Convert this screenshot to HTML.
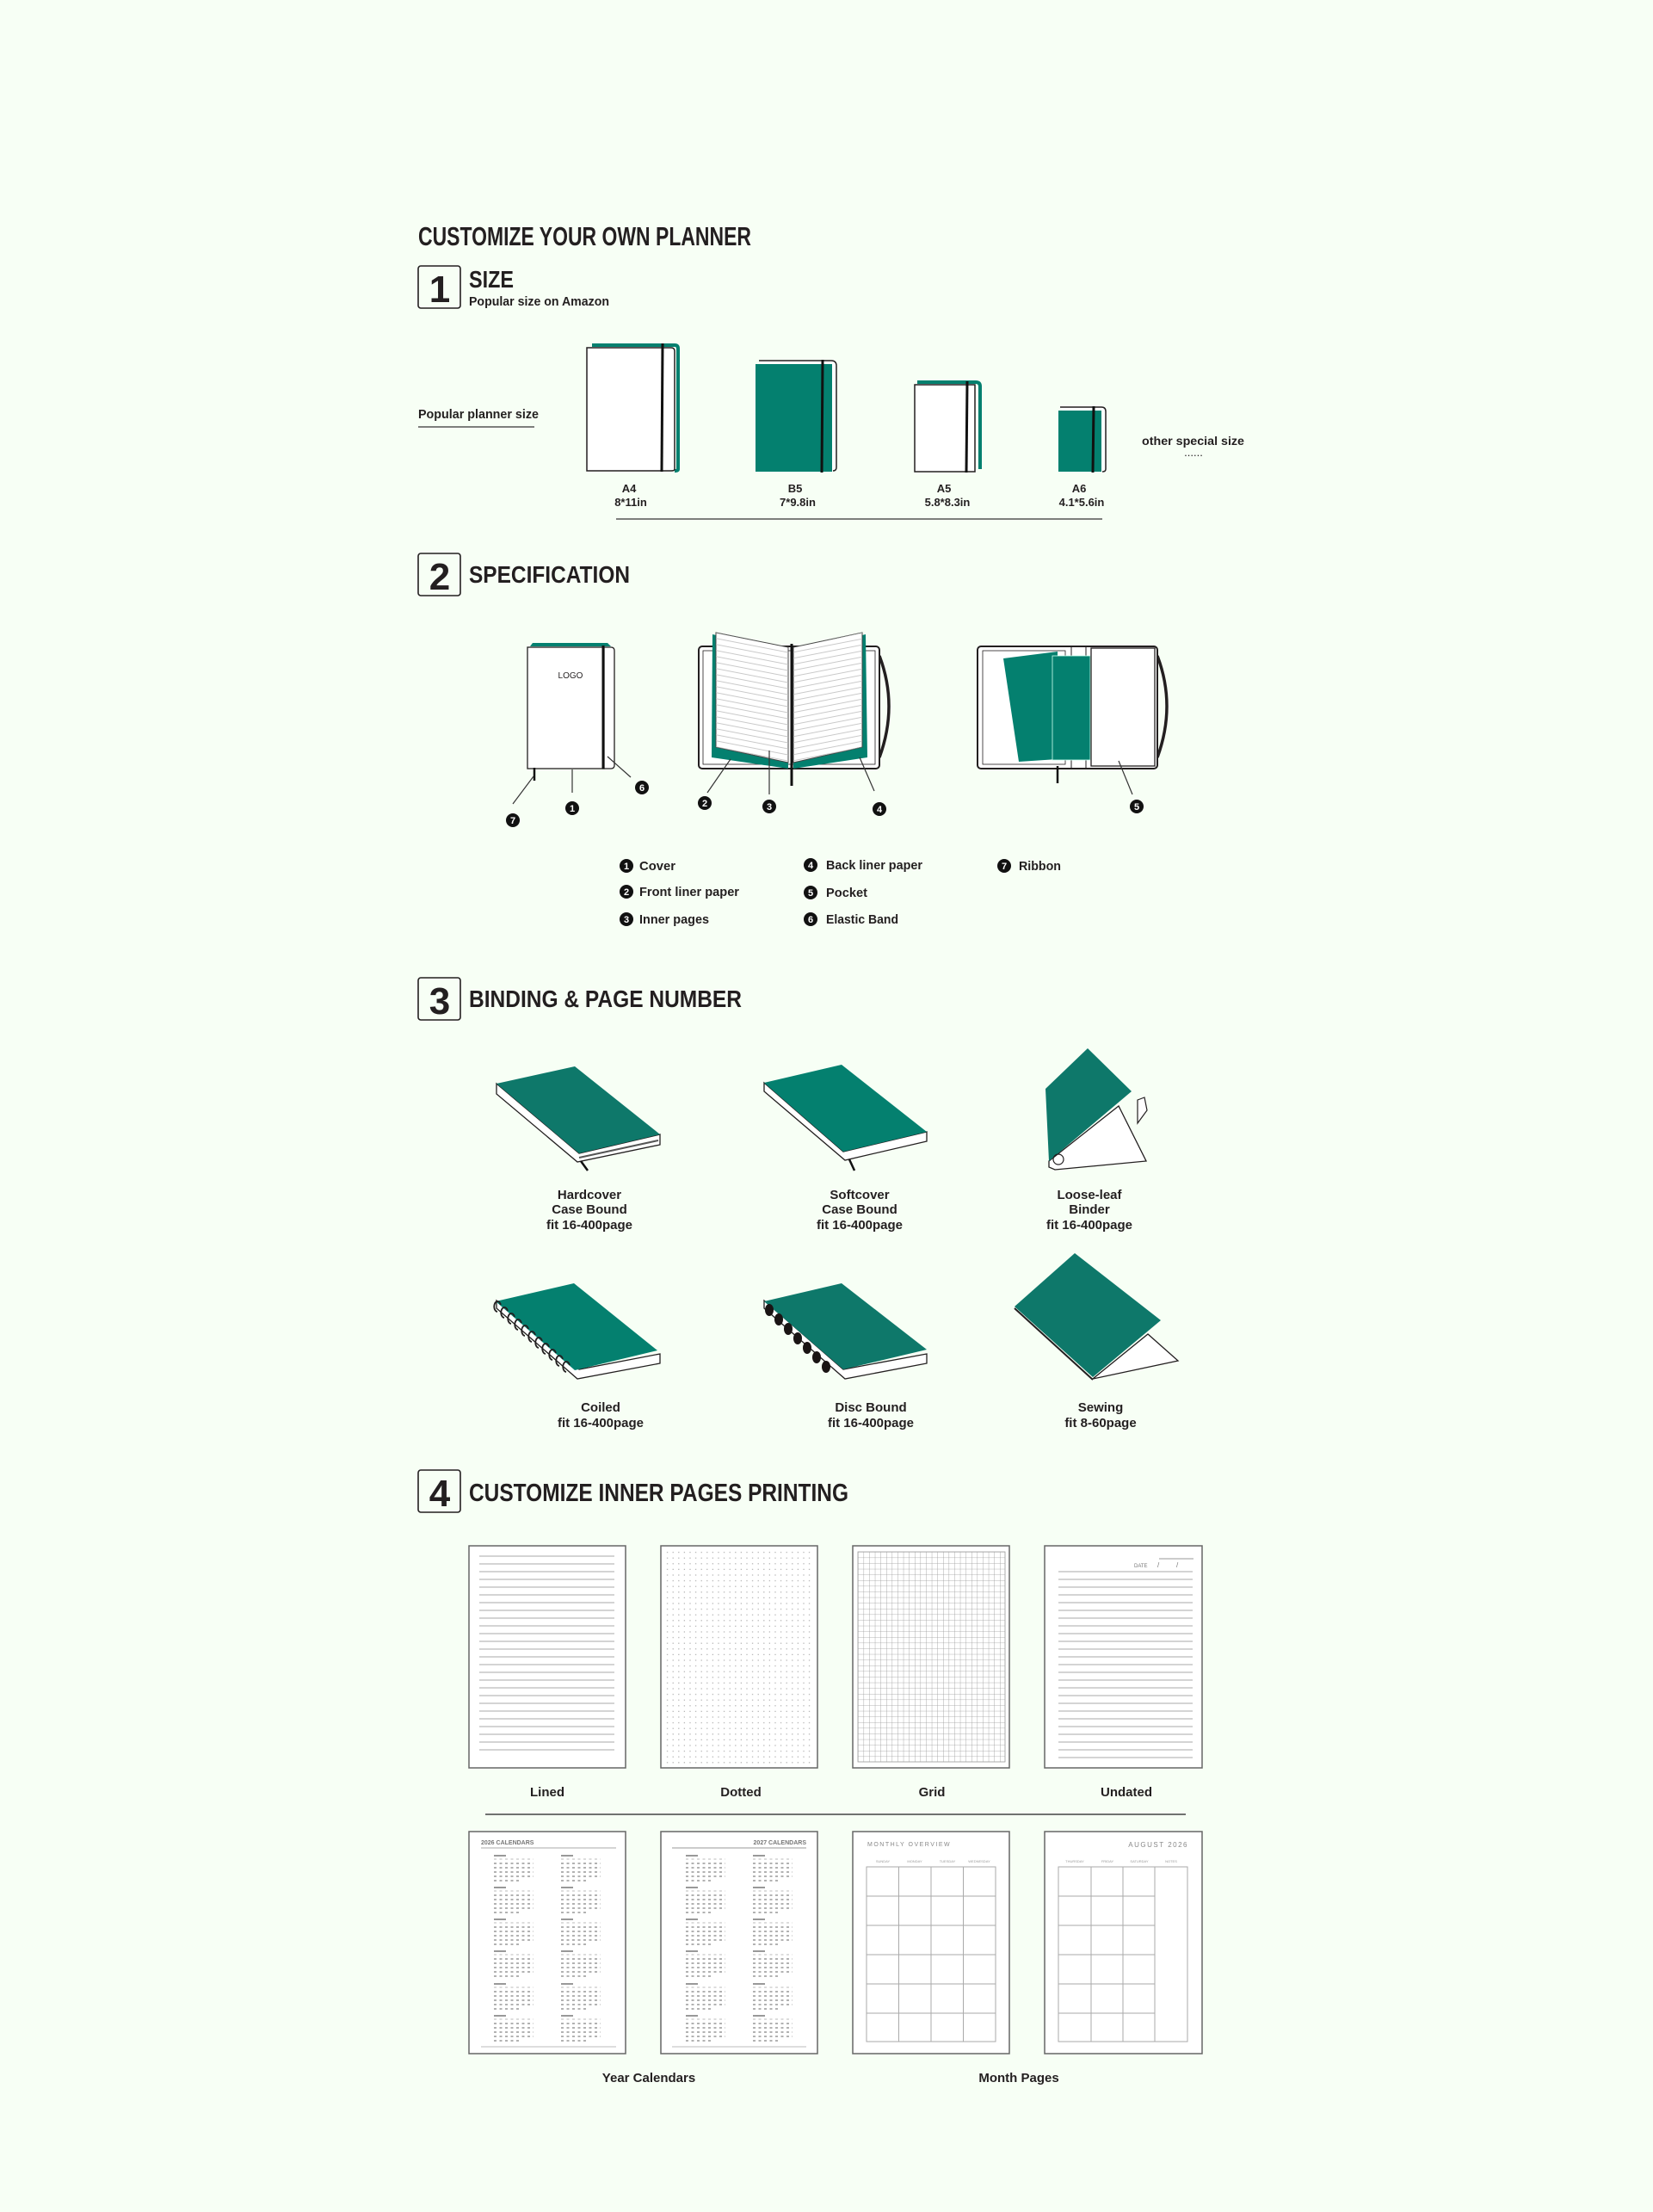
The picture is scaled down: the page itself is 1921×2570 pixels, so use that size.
<!DOCTYPE html>
<html><head><meta charset="utf-8"><style>
html,body{margin:0;padding:0;background:#f7fff5;}
svg{display:block;}
text{font-family:"Liberation Sans",sans-serif;fill:#231f20;}
</style></head><body>
<svg width="1921" height="2570" viewBox="0 0 1921 2570" xmlns="http://www.w3.org/2000/svg">
<defs>
<pattern id="pl" width="10" height="9" patternUnits="userSpaceOnUse"><line x1="0" y1="8" x2="10" y2="8" stroke="#aaa" stroke-width="1"/></pattern>
<pattern id="plL" width="10" height="7" patternUnits="userSpaceOnUse" patternTransform="skewY(11)"><line x1="0" y1="6" x2="10" y2="6" stroke="#bbb" stroke-width="0.8"/></pattern>
<pattern id="plR" width="10" height="7" patternUnits="userSpaceOnUse" patternTransform="skewY(-11)"><line x1="0" y1="6" x2="10" y2="6" stroke="#bbb" stroke-width="0.8"/></pattern>
<pattern id="dots" x="772" y="1800" width="6.6" height="6.6" patternUnits="userSpaceOnUse"><rect x="3" y="3" width="1.2" height="1.2" fill="#aaa"/></pattern>
<pattern id="grid" x="997" y="1803" width="6.6" height="6.6" patternUnits="userSpaceOnUse"><path d="M0 0H6.6M0 0V6.6" stroke="#999" stroke-width="0.8" fill="none"/></pattern>
<g id="mb">
<rect x="0" y="0" width="14" height="2" fill="#999"/>
<line x1="0" y1="5" x2="46" y2="5" stroke="#bbb" stroke-width="1" stroke-dasharray="3,3.5"/>
<line x1="0" y1="10" x2="46" y2="10" stroke="#999" stroke-width="1.6" stroke-dasharray="3,3.5"/>
<line x1="0" y1="15" x2="46" y2="15" stroke="#999" stroke-width="1.6" stroke-dasharray="3,3.5"/>
<line x1="0" y1="20" x2="46" y2="20" stroke="#999" stroke-width="1.6" stroke-dasharray="3,3.5"/>
<line x1="0" y1="25" x2="46" y2="25" stroke="#999" stroke-width="1.6" stroke-dasharray="3,3.5"/>
<line x1="0" y1="30" x2="30" y2="30" stroke="#999" stroke-width="1.6" stroke-dasharray="3,3.5"/>
</g>
<g id="yc">
<use href="#mb" x="0" y="0"/><use href="#mb" x="78" y="0"/>
<use href="#mb" x="0" y="37"/><use href="#mb" x="78" y="37"/>
<use href="#mb" x="0" y="74"/><use href="#mb" x="78" y="74"/>
<use href="#mb" x="0" y="111"/><use href="#mb" x="78" y="111"/>
<use href="#mb" x="0" y="149"/><use href="#mb" x="78" y="149"/>
<use href="#mb" x="0" y="186"/><use href="#mb" x="78" y="186"/>
</g>
</defs>
<rect width="1921" height="2570" fill="#f7fff5"/>

<text x="486" y="285" font-size="31" font-weight="bold" textLength="387" lengthAdjust="spacingAndGlyphs">CUSTOMIZE YOUR OWN PLANNER</text>

<!-- Section 1 -->
<rect x="486" y="309" width="49" height="49" rx="3" fill="none" stroke="#231f20" stroke-width="1.6"/>
<text x="511" y="351" font-size="44" font-weight="bold" text-anchor="middle">1</text>
<text x="545" y="334" font-size="28" font-weight="bold" textLength="52" lengthAdjust="spacingAndGlyphs">SIZE</text>
<text x="545" y="355" font-size="15" font-weight="bold" textLength="163" lengthAdjust="spacingAndGlyphs">Popular size on Amazon</text>
<text x="486" y="486" font-size="15" font-weight="bold" textLength="140" lengthAdjust="spacingAndGlyphs">Popular planner size</text>
<line x1="486" y1="496" x2="621" y2="496" stroke="#555" stroke-width="1.5"/>

<path d="M688 401 H784 Q788 401 788 405 V545 Q788 547 784 547" fill="none" stroke="#04806f" stroke-width="4"/>
<path d="M682 404 H780 Q784 404 784 408 V545 Q784 547 780 547 H682 Z" fill="#fff" stroke="#231f20" stroke-width="1.5"/>
<line x1="770" y1="399" x2="769" y2="548" stroke="#111" stroke-width="3"/>
<path d="M882 419 H966 Q972 419 972 425 V543 Q972 547 968 547" fill="#fff" stroke="#231f20" stroke-width="1.5"/>
<rect x="878" y="423" width="89" height="125" fill="#04806f"/>
<line x1="956" y1="418" x2="955" y2="549" stroke="#111" stroke-width="3"/>
<path d="M1066 444 H1134 Q1139 444 1139 449 V545" fill="none" stroke="#04806f" stroke-width="4"/>
<rect x="1063" y="447" width="70" height="101" fill="#fff" stroke="#231f20" stroke-width="1.5"/>
<line x1="1124" y1="443" x2="1123" y2="549" stroke="#111" stroke-width="3"/>
<path d="M1232 473 H1280 Q1285 473 1285 478 V545 Q1285 548 1281 548" fill="#fff" stroke="#231f20" stroke-width="1.5"/>
<rect x="1230" y="477" width="50" height="71" fill="#04806f"/>
<line x1="1271" y1="472" x2="1270" y2="549" stroke="#111" stroke-width="3"/>

<g font-size="13" text-anchor="middle" font-weight="bold">
<text x="731" y="572">A4</text><text x="733" y="588">8*11in</text>
<text x="924" y="572">B5</text><text x="927" y="588">7*9.8in</text>
<text x="1097" y="572">A5</text><text x="1101" y="588">5.8*8.3in</text>
<text x="1254" y="572">A6</text><text x="1257" y="588">4.1*5.6in</text>
</g>
<line x1="716" y1="603" x2="1281" y2="603" stroke="#555" stroke-width="1.5"/>
<text x="1327" y="517" font-size="14" font-weight="bold" textLength="119" lengthAdjust="spacingAndGlyphs">other special size</text>
<text x="1387" y="530" font-size="13" text-anchor="middle">......</text>

<!-- Section 2 -->
<rect x="486" y="643" width="49" height="49" rx="3" fill="none" stroke="#231f20" stroke-width="1.6"/>
<text x="511" y="685" font-size="44" font-weight="bold" text-anchor="middle">2</text>
<text x="545" y="677" font-size="28" font-weight="bold" textLength="187" lengthAdjust="spacingAndGlyphs">SPECIFICATION</text>

<path d="M616 751 L619 747 H706 L710 751" fill="#04806f"/>
<path d="M700 752 H710 Q714 752 714 756 V889 Q714 893 710 893 H700" fill="#fff" stroke="#231f20" stroke-width="1.3"/>
<rect x="613" y="752" width="89" height="141" fill="#fff" stroke="#231f20" stroke-width="1.3"/>
<line x1="701" y1="750" x2="701" y2="893" stroke="#111" stroke-width="3"/>
<text x="663" y="788" font-size="10" text-anchor="middle">LOGO</text>
<line x1="621" y1="892" x2="621" y2="907" stroke="#111" stroke-width="2.5"/>
<g stroke="#333" stroke-width="1.2">
<line x1="620" y1="902" x2="596" y2="934"/>
<line x1="665" y1="894" x2="665" y2="921"/>
<line x1="706" y1="879" x2="733" y2="903"/>
</g>

<path d="M1022 762 Q1044 820 1022 880" fill="none" stroke="#231f20" stroke-width="3.5"/>
<rect x="812" y="751" width="210" height="142" rx="4" fill="#fff" stroke="#231f20" stroke-width="2"/>
<rect x="817" y="756" width="200" height="132" fill="none" stroke="#231f20" stroke-width="0.8"/>
<polygon points="828,737 916,757 916,893 827,880" fill="#04806f"/>
<polygon points="1006,737 922,757 922,893 1008,880" fill="#04806f"/>
<polygon points="832,735 916,752 916,886 832,868" fill="#fff" stroke="#444" stroke-width="1"/>
<polygon points="832,735 916,752 916,886 832,868" fill="url(#plL)"/>
<polygon points="1002,735 922,752 922,886 1002,868" fill="#fff" stroke="#444" stroke-width="1"/>
<polygon points="1002,735 922,752 922,886 1002,868" fill="url(#plR)"/>
<line x1="920" y1="748" x2="920" y2="913" stroke="#111" stroke-width="3"/>
<g stroke="#333" stroke-width="1.2">
<line x1="849" y1="882" x2="822" y2="921"/>
<line x1="894" y1="872" x2="894" y2="923"/>
<line x1="999" y1="880" x2="1016" y2="919"/>
</g>

<path d="M1345 762 Q1367 820 1345 880" fill="none" stroke="#231f20" stroke-width="3.5"/>
<rect x="1136" y="751" width="209" height="142" rx="4" fill="#fff" stroke="#231f20" stroke-width="2"/>
<rect x="1142" y="756" width="96" height="132" fill="none" stroke="#231f20" stroke-width="0.8"/>
<line x1="1245" y1="751" x2="1245" y2="893" stroke="#231f20" stroke-width="1"/>
<line x1="1262" y1="751" x2="1262" y2="893" stroke="#231f20" stroke-width="1"/>
<polygon points="1166,765 1229,757 1229,882 1184,885" fill="#04806f"/>
<rect x="1223" y="762" width="44" height="121" fill="#04806f" stroke="#cfe" stroke-width="0.8"/>
<rect x="1268" y="753" width="74" height="137" fill="#fff" stroke="#231f20" stroke-width="1.3"/>
<line x1="1229" y1="890" x2="1229" y2="910" stroke="#111" stroke-width="2.5"/>
<line x1="1300" y1="884" x2="1316" y2="923" stroke="#333" stroke-width="1.2"/>

<g font-size="11" font-weight="bold" text-anchor="middle">
<circle cx="596" cy="953" r="8" fill="#111"/><text x="596" y="957" style="fill:#fff">7</text>
<circle cx="665" cy="939" r="8" fill="#111"/><text x="665" y="943" style="fill:#fff">1</text>
<circle cx="746" cy="915" r="8" fill="#111"/><text x="746" y="919" style="fill:#fff">6</text>
<circle cx="819" cy="933" r="8" fill="#111"/><text x="819" y="937" style="fill:#fff">2</text>
<circle cx="894" cy="937" r="8" fill="#111"/><text x="894" y="941" style="fill:#fff">3</text>
<circle cx="1022" cy="940" r="8" fill="#111"/><text x="1022" y="944" style="fill:#fff">4</text>
<circle cx="1321" cy="937" r="8" fill="#111"/><text x="1321" y="941" style="fill:#fff">5</text>
<circle cx="728" cy="1006" r="8" fill="#111"/><text x="728" y="1010" style="fill:#fff">1</text>
<circle cx="728" cy="1036" r="8" fill="#111"/><text x="728" y="1040" style="fill:#fff">2</text>
<circle cx="728" cy="1068" r="8" fill="#111"/><text x="728" y="1072" style="fill:#fff">3</text>
<circle cx="942" cy="1005" r="8" fill="#111"/><text x="942" y="1009" style="fill:#fff">4</text>
<circle cx="942" cy="1037" r="8" fill="#111"/><text x="942" y="1041" style="fill:#fff">5</text>
<circle cx="942" cy="1068" r="8" fill="#111"/><text x="942" y="1072" style="fill:#fff">6</text>
<circle cx="1167" cy="1006" r="8" fill="#111"/><text x="1167" y="1010" style="fill:#fff">7</text>
</g>
<g font-size="15" font-weight="bold">
<text x="743" y="1011" textLength="42" lengthAdjust="spacingAndGlyphs">Cover</text>
<text x="743" y="1041" textLength="116" lengthAdjust="spacingAndGlyphs">Front liner paper</text>
<text x="743" y="1073" textLength="81" lengthAdjust="spacingAndGlyphs">Inner pages</text>
<text x="960" y="1010" textLength="112" lengthAdjust="spacingAndGlyphs">Back liner paper</text>
<text x="960" y="1042" textLength="48" lengthAdjust="spacingAndGlyphs">Pocket</text>
<text x="960" y="1073" textLength="84" lengthAdjust="spacingAndGlyphs">Elastic Band</text>
<text x="1184" y="1011" textLength="49" lengthAdjust="spacingAndGlyphs">Ribbon</text>
</g>

<!-- Section 3 -->
<rect x="486" y="1136" width="49" height="49" rx="3" fill="none" stroke="#231f20" stroke-width="1.6"/>
<text x="511" y="1178" font-size="44" font-weight="bold" text-anchor="middle">3</text>
<text x="545" y="1170" font-size="28" font-weight="bold" textLength="317" lengthAdjust="spacingAndGlyphs">BINDING &amp; PAGE NUMBER</text>

<polygon points="577,1259 577,1271 671,1350 767,1330 767,1318 673,1340" fill="#fff" stroke="#231f20" stroke-width="1.3"/>
<line x1="673" y1="1345" x2="765" y2="1325" stroke="#555" stroke-width="2"/>
<polygon points="577,1259 668,1239 767,1318 673,1340" fill="#0e786a"/>
<line x1="675" y1="1349" x2="683" y2="1360" stroke="#111" stroke-width="2.5"/>
<polygon points="888,1258 888,1268 982,1348 1077,1326 1077,1315 980,1338" fill="#fff" stroke="#231f20" stroke-width="1.3"/>
<polygon points="888,1258 978,1237 1077,1315 980,1338" fill="#04806f"/>
<line x1="987" y1="1347" x2="993" y2="1360" stroke="#111" stroke-width="2.5"/>
<polygon points="1219,1349 1300,1285 1332,1349 1226,1359 1219,1356" fill="#fff" stroke="#231f20" stroke-width="1.3"/>
<path d="M1322 1278 L1330 1275 L1333 1290 L1322 1305 Z" fill="#fff" stroke="#231f20" stroke-width="1.2"/>
<polygon points="1215,1265 1264,1218 1315,1268 1219,1349" fill="#0e786a"/>
<circle cx="1230" cy="1347" r="6" fill="none" stroke="#231f20" stroke-width="1.2"/>
<polygon points="577,1511 577,1520 671,1602 767,1584 767,1573 673,1591" fill="#fff" stroke="#231f20" stroke-width="1.3"/>
<polygon points="576,1512 667,1491 764,1569 668,1592" fill="#04806f"/>
<g fill="none" stroke="#231f20" stroke-width="1.8">
<path d="M582 1516 a4 6 0 1 0 -4 8"/><path d="M590 1523 a4 6 0 1 0 -4 8"/><path d="M598 1530 a4 6 0 1 0 -4 8"/>
<path d="M606 1537 a4 6 0 1 0 -4 8"/><path d="M614 1544 a4 6 0 1 0 -4 8"/><path d="M622 1551 a4 6 0 1 0 -4 8"/>
<path d="M630 1558 a4 6 0 1 0 -4 8"/><path d="M638 1565 a4 6 0 1 0 -4 8"/><path d="M646 1572 a4 6 0 1 0 -4 8"/>
<path d="M654 1579 a4 6 0 1 0 -4 8"/><path d="M662 1586 a4 6 0 1 0 -4 8"/>
</g>
<polygon points="888,1511 888,1520 982,1602 1077,1584 1077,1573 980,1591" fill="#fff" stroke="#231f20" stroke-width="1.3"/>
<polygon points="888,1512 978,1491 1077,1568 980,1591" fill="#0e786a"/>
<g fill="#1a1414">
<ellipse cx="894" cy="1522" rx="5" ry="7"/><ellipse cx="905" cy="1533" rx="5" ry="7"/><ellipse cx="916" cy="1544" rx="5" ry="7"/>
<ellipse cx="927" cy="1555" rx="5" ry="7"/><ellipse cx="938" cy="1566" rx="5" ry="7"/><ellipse cx="949" cy="1577" rx="5" ry="7"/>
<ellipse cx="960" cy="1588" rx="5" ry="7"/>
</g>
<polygon points="1270,1602 1369,1581 1334,1550" fill="#fff" stroke="#231f20" stroke-width="1.3"/>
<line x1="1179" y1="1520" x2="1270" y2="1603" stroke="#231f20" stroke-width="2"/>
<polygon points="1179,1518 1249,1456 1349,1534 1270,1600" fill="#0e786a"/>

<g font-size="15" font-weight="bold" text-anchor="middle">
<text x="685" y="1393">Hardcover</text><text x="685" y="1410">Case Bound</text><text x="685" y="1428">fit 16-400page</text>
<text x="999" y="1393">Softcover</text><text x="999" y="1410">Case Bound</text><text x="999" y="1428">fit 16-400page</text>
<text x="1266" y="1393">Loose-leaf</text><text x="1266" y="1410">Binder</text><text x="1266" y="1428">fit 16-400page</text>
<text x="698" y="1640">Coiled</text><text x="698" y="1658">fit 16-400page</text>
<text x="1012" y="1640">Disc Bound</text><text x="1012" y="1658">fit 16-400page</text>
<text x="1279" y="1640">Sewing</text><text x="1279" y="1658">fit 8-60page</text>
</g>

<!-- Section 4 -->
<rect x="486" y="1708" width="49" height="49" rx="3" fill="none" stroke="#231f20" stroke-width="1.6"/>
<text x="511" y="1750" font-size="44" font-weight="bold" text-anchor="middle">4</text>
<text x="545" y="1744" font-size="29" font-weight="bold" textLength="441" lengthAdjust="spacingAndGlyphs">CUSTOMIZE INNER PAGES PRINTING</text>

<g fill="#fff" stroke="#666" stroke-width="1.5">
<rect x="545" y="1796" width="182" height="258"/>
<rect x="768" y="1796" width="182" height="258"/>
<rect x="991" y="1796" width="182" height="258"/>
<rect x="1214" y="1796" width="183" height="258"/>
</g>
<rect x="557" y="1807" width="157" height="234" fill="url(#pl)"/>
<rect x="772" y="1800" width="174" height="250" fill="url(#dots)"/>
<rect x="997" y="1803" width="171" height="244" fill="url(#grid)" stroke="#999" stroke-width="0.8"/>
<text x="1318" y="1821" font-size="6" style="fill:#777">DATE</text>
<text x="1345" y="1821" font-size="8" style="fill:#777">/</text><text x="1367" y="1821" font-size="8" style="fill:#777">/</text>
<line x1="1347" y1="1811" x2="1387" y2="1811" stroke="#999" stroke-width="1"/>
<rect x="1230" y="1819" width="156" height="224" fill="url(#pl)"/>

<g font-size="15" font-weight="bold" text-anchor="middle">
<text x="636" y="2087">Lined</text><text x="861" y="2087">Dotted</text><text x="1083" y="2087">Grid</text><text x="1309" y="2087">Undated</text>
</g>
<line x1="564" y1="2108" x2="1378" y2="2108" stroke="#444" stroke-width="1.5"/>

<g fill="#fff" stroke="#666" stroke-width="1.5">
<rect x="545" y="2128" width="182" height="258"/>
<rect x="768" y="2128" width="182" height="258"/>
<rect x="991" y="2128" width="182" height="258"/>
<rect x="1214" y="2128" width="183" height="258"/>
</g>
<text x="559" y="2143" font-size="7" font-weight="bold" style="fill:#777">2026 CALENDARS</text>
<line x1="559" y1="2147" x2="716" y2="2147" stroke="#aaa" stroke-width="1"/>
<use href="#yc" x="574" y="2155"/>
<line x1="559" y1="2378" x2="716" y2="2378" stroke="#bbb" stroke-width="1"/>
<text x="937" y="2143" font-size="7" font-weight="bold" text-anchor="end" style="fill:#777">2027 CALENDARS</text>
<line x1="781" y1="2147" x2="937" y2="2147" stroke="#ccc" stroke-width="2"/>
<use href="#yc" x="797" y="2155"/>
<line x1="781" y1="2378" x2="937" y2="2378" stroke="#bbb" stroke-width="1"/>

<text x="1008" y="2145" font-size="7" letter-spacing="1.5" style="fill:#888">MONTHLY OVERVIEW</text>
<g font-size="4" text-anchor="middle">
<text x="1026" y="2164" style="fill:#999">SUNDAY</text><text x="1063" y="2164" style="fill:#999">MONDAY</text><text x="1101" y="2164" style="fill:#999">TUESDAY</text><text x="1138" y="2164" style="fill:#999">WEDNESDAY</text>
</g>
<g fill="none" stroke="#aaa" stroke-width="1">
<rect x="1007" y="2169" width="150" height="203"/>
<path d="M1044.5 2169V2372M1082 2169V2372M1119.5 2169V2372M1007 2203H1157M1007 2237H1157M1007 2271H1157M1007 2305H1157M1007 2339H1157"/>
</g>
<text x="1381" y="2146" font-size="8" letter-spacing="1.5" text-anchor="end" style="fill:#888">AUGUST 2026</text>
<g font-size="4" text-anchor="middle">
<text x="1249" y="2164" style="fill:#999">THURSDAY</text><text x="1287" y="2164" style="fill:#999">FRIDAY</text><text x="1324" y="2164" style="fill:#999">SATURDAY</text><text x="1361" y="2164" style="fill:#999">NOTES</text>
</g>
<g fill="none" stroke="#aaa" stroke-width="1">
<rect x="1230" y="2169" width="150" height="203"/>
<path d="M1268 2169V2372M1305 2169V2372M1342 2169V2372M1230 2203H1342M1230 2237H1342M1230 2271H1342M1230 2305H1342M1230 2339H1342"/>
</g>

<g font-size="15" font-weight="bold" text-anchor="middle">
<text x="754" y="2419">Year Calendars</text><text x="1184" y="2419">Month Pages</text>
</g>
</svg>
</body></html>
